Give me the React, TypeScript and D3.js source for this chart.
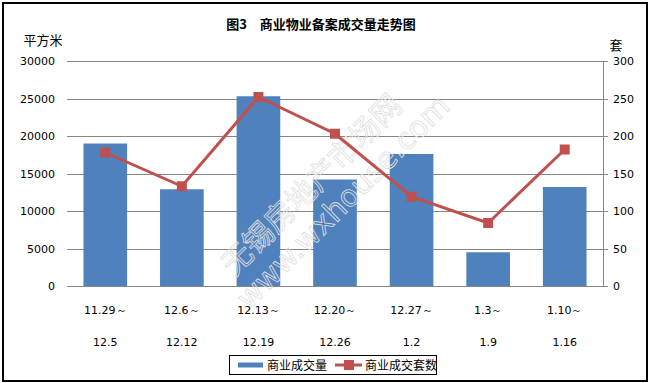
import React from "react";
import * as d3 from "d3";

const categories = ["11.29～|12.5", "12.6～|12.12", "12.13～|12.19", "12.20～|12.26", "12.27～|1.2", "1.3～|1.9", "1.10～|1.16"];
const areaValues = [19000, 12900, 25300, 14200, 17600, 4500, 13200];
const countValues = [178, 133, 252, 203, 119, 84, 182];
const leftTicks = [0, 5000, 10000, 15000, 20000, 25000, 30000];
const rightTicks = [0, 50, 100, 150, 200, 250, 300];
const seriesNames = ["商业成交量", "商业成交套数"];

const W = 649, H = 383;
const plot = { left: 67, right: 603, top: 61, bottom: 286 };
const BLUE = "#4F81BD";
const RED = "#C0504D";
const GRID = "#868686";
const NUM_FONT = "'DejaVu Sans', Verdana, sans-serif";
const CJK_FONT = "'Noto Sans CJK SC', 'Noto Sans', sans-serif";

export default function App() {
  const x = d3.scaleBand<string>().domain(categories).range([plot.left, plot.right]).paddingInner(0.43).paddingOuter(0.215);
  const xc = d3.scalePoint<string>().domain(categories).range([plot.left, plot.right]).padding(0.5);
  const yL = d3.scaleLinear().domain([0, 30000]).range([plot.bottom, plot.top]);
  const yR = d3.scaleLinear().domain([0, 300]).range([plot.bottom, plot.top]);
  const line = d3.line<number>().x((_, i) => xc(categories[i]) as number).y((d) => yR(d));

  return (
    <svg width={W} height={H} style={{ position: "absolute", left: 0, top: 0, background: "#fff" }}>
      <rect x={3} y={3} width={644} height={378} fill="#fff" stroke="#000" strokeWidth={2} />
      <text x={321} y={29} textAnchor="middle" fontFamily={CJK_FONT} fontWeight="bold" fontSize={13}>图3　商业物业备案成交量走势图</text>
      <text x={43} y={45} textAnchor="middle" fontFamily={CJK_FONT} fontSize={13}>平方米</text>
      <text x={616} y={50} textAnchor="middle" fontFamily={CJK_FONT} fontSize={13}>套</text>

      {leftTicks.map((t) => (
        <g key={"l" + t}>
          <line x1={plot.left} x2={plot.right} y1={Math.round(yL(t)) + 0.5} y2={Math.round(yL(t)) + 0.5} stroke={GRID} strokeWidth={1} />
          <text x={55} y={yL(t) + 4} textAnchor="end" fontFamily={NUM_FONT} fontSize={11}>{t}</text>
        </g>
      ))}
      {rightTicks.map((t) => (
        <g key={"r" + t}>
          <line x1={plot.right} x2={plot.right + 5} y1={Math.round(yR(t)) + 0.5} y2={Math.round(yR(t)) + 0.5} stroke={GRID} strokeWidth={1} />
          <text x={613} y={yR(t) + 4} textAnchor="start" fontFamily={NUM_FONT} fontSize={11}>{t}</text>
        </g>
      ))}
      <line x1={plot.right + 0.5} x2={plot.right + 0.5} y1={plot.top} y2={plot.bottom + 1} stroke={GRID} strokeWidth={1} />

      {areaValues.map((v, i) => (
        <rect key={"b" + i} x={x(categories[i])} y={yL(v)} width={x.bandwidth()} height={plot.bottom - yL(v)} fill={BLUE} />
      ))}

      <g transform="translate(322,195) rotate(-45)" fill="none" stroke="#e0e0e0" strokeWidth={0.8}>
        <text x={0} y={-4} textAnchor="middle" fontFamily={CJK_FONT} fontSize={30}>无锡房地产市场网</text>
        <text x={10} y={30} textAnchor="middle" fontFamily={NUM_FONT} fontSize={30}>www.wxhouse.com</text>
      </g>

      <path d={line(countValues) as string} fill="none" stroke={RED} strokeWidth={3} />
      {countValues.map((v, i) => (
        <rect key={"m" + i} x={(xc(categories[i]) as number) - 5} y={yR(v) - 5} width={10} height={10} fill={RED} />
      ))}

      {categories.map((c) => {
        const [a, b] = c.split("|");
        const cx = xc(c) as number;
        return (
          <g key={"x" + c} fontFamily={NUM_FONT} fontSize={11} textAnchor="middle">
            <text x={cx} y={314}>{a}</text>
            <text x={cx} y={346}>{b}</text>
          </g>
        );
      })}

      <rect x={229.5} y={355.5} width={207} height={19} fill="#fff" stroke="#000" strokeWidth={1} />
      <line x1={238} x2={263} y1={365} y2={365} stroke={BLUE} strokeWidth={5} />
      <text x={267} y={370} fontFamily={CJK_FONT} fontSize={12}>{seriesNames[0]}</text>
      <line x1={335} x2={362} y1={365} y2={365} stroke={RED} strokeWidth={3} />
      <rect x={344} y={360} width={10} height={10} fill={RED} />
      <text x={365} y={370} fontFamily={CJK_FONT} fontSize={12}>{seriesNames[1]}</text>
    </svg>
  );
}
